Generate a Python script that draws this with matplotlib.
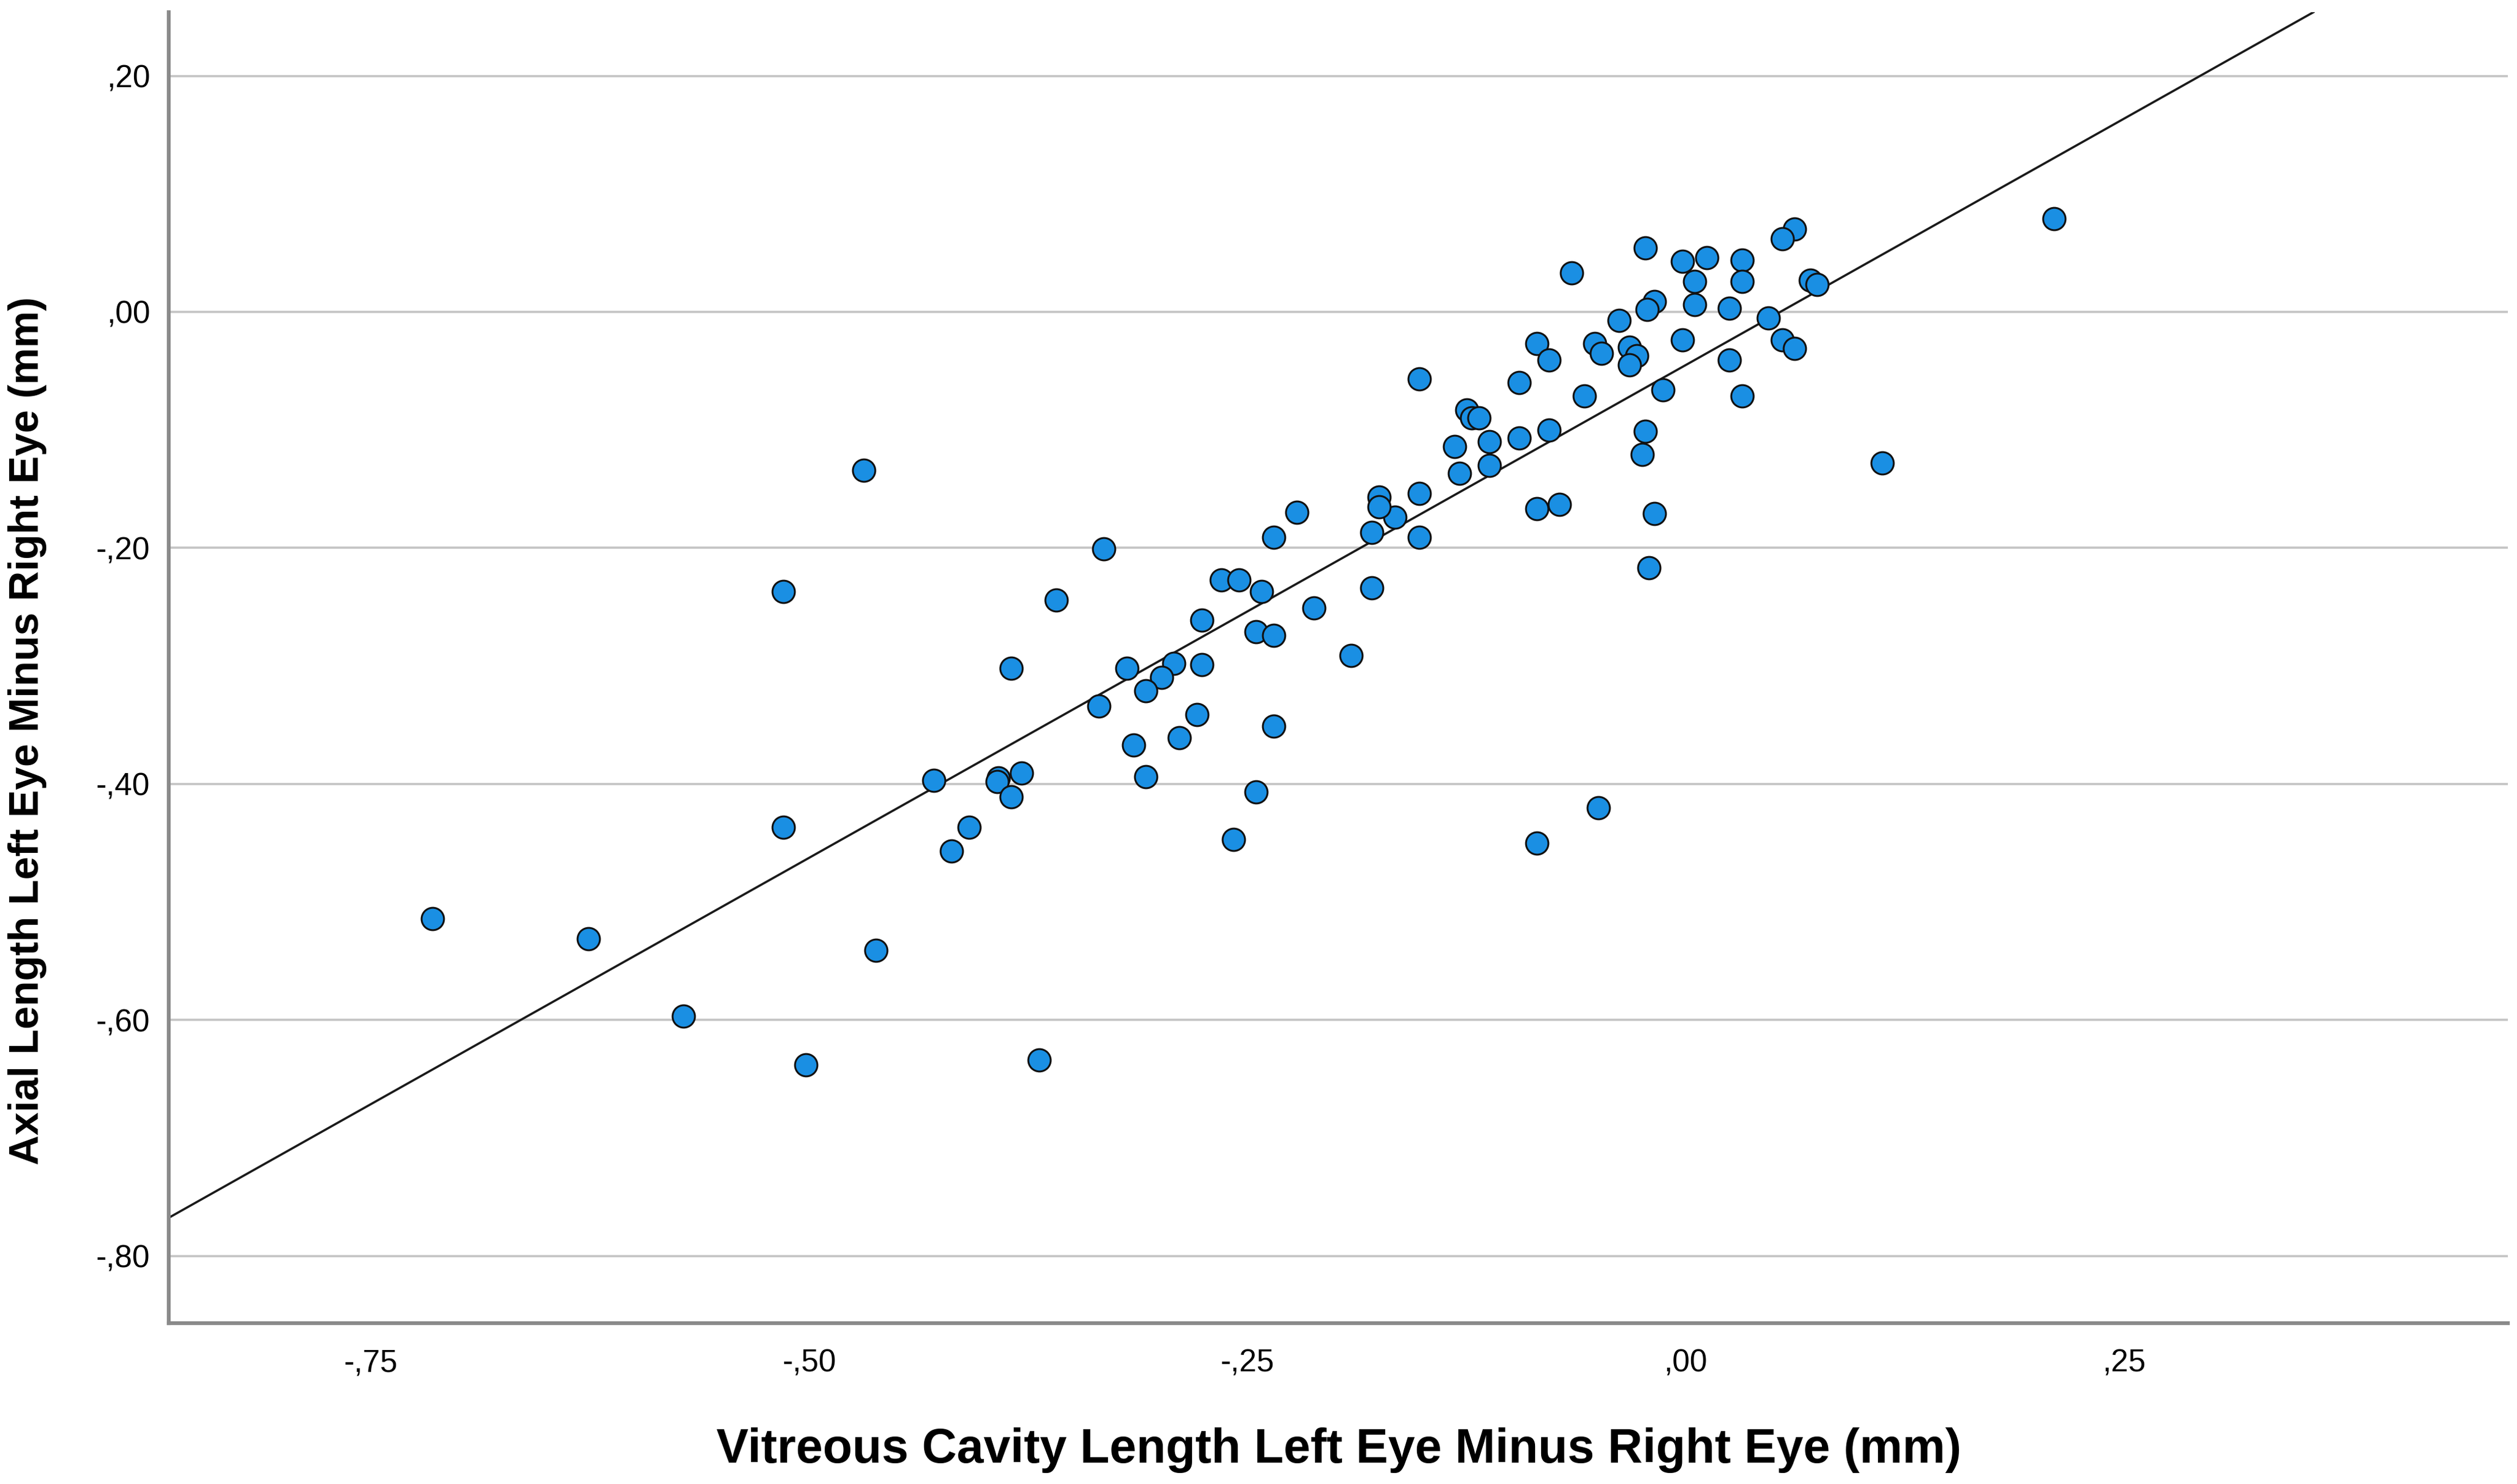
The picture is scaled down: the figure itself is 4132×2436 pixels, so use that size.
import matplotlib
matplotlib.use("Agg")
import matplotlib.pyplot as plt
from matplotlib import font_manager

# ---------------- data ----------------
vitreous_diff = [
    0.062, 0.055, -0.023, -0.065, -0.002, 0.012, 0.032, 0.005, 0.032, 0.071,
    0.075, -0.018, -0.022, 0.005, 0.025, -0.038, 0.047, -0.085, -0.078, -0.052,
    -0.048, -0.032, -0.028, -0.032, -0.002, 0.055, 0.062, 0.025, -0.152, -0.095,
    -0.058, -0.013, 0.032, -0.125, -0.122, -0.118, -0.132, -0.112, -0.095, -0.078,
    -0.129, -0.112, -0.023, -0.025, -0.152, -0.166, -0.152, -0.085, -0.072, -0.018,
    -0.021, 0.112,
    -0.175, -0.175, -0.179, -0.222, -0.235, -0.332, -0.359, -0.265, -0.255, -0.242,
    -0.179, -0.212, -0.276, -0.245, -0.235, -0.191, -0.385, -0.319, -0.292, -0.276,
    -0.299, -0.308, -0.335, -0.279, -0.289, -0.315, -0.235, -0.308, -0.429, -0.392,
    -0.393, -0.379, -0.385, -0.409, -0.419, -0.245, -0.258, -0.369,
    -0.469, -0.515, -0.515, -0.715, -0.626, -0.462,
    -0.572, -0.502, 0.210, -0.085, -0.050,
]
axial_diff = [
    0.070, 0.062, 0.054, 0.033, 0.043, 0.046, 0.044, 0.026, 0.026, 0.027,
    0.023, 0.009, 0.002, 0.006, 0.003, -0.007, -0.005, -0.027, -0.041, -0.027,
    -0.035, -0.030, -0.037, -0.045, -0.024, -0.024, -0.031, -0.041, -0.057, -0.060,
    -0.071, -0.066, -0.071, -0.083, -0.090, -0.090, -0.114, -0.110, -0.107, -0.100,
    -0.137, -0.130, -0.101, -0.121, -0.154, -0.174, -0.191, -0.167, -0.163, -0.171,
    -0.217, -0.128,
    -0.157, -0.165, -0.187, -0.170, -0.191, -0.201, -0.244, -0.227, -0.227, -0.237,
    -0.234, -0.251, -0.261, -0.271, -0.274, -0.291, -0.302, -0.302, -0.298, -0.299,
    -0.310, -0.321, -0.334, -0.341, -0.361, -0.367, -0.351, -0.394, -0.397, -0.395,
    -0.398, -0.391, -0.411, -0.437, -0.457, -0.407, -0.447, -0.634,
    -0.134, -0.237, -0.437, -0.514, -0.531, -0.541,
    -0.597, -0.638, 0.079, -0.450, -0.420,
]
fit_slope = 0.835
fit_intercept = -0.045

x_ticks = [-0.75, -0.50, -0.25, 0.00, 0.25]
x_tick_labels = ["-,75", "-,50", "-,25", ",00", ",25"]
y_ticks = [0.20, 0.00, -0.20, -0.40, -0.60, -0.80]
y_tick_labels = [",20", ",00", "-,20", "-,40", "-,60", "-,80"]

x_title = "Vitreous Cavity Length Left Eye Minus Right Eye (mm)"
y_title = "Axial Length Left Eye Minus Right Eye (mm)"

# ---------------- style ----------------
W, H, DPI = 4132, 2436, 100
fig = plt.figure(figsize=(W / DPI, H / DPI), dpi=DPI, facecolor="white")
ax = fig.add_axes([277 / W, 1 - 2172 / H, (4117 - 277) / W, (2172 - 20) / H])

ax.set_xlim(-0.8655, 0.469)
ax.set_ylim(-0.857, 0.254)

grid_color = "#c4c4c4"
spine_color = "#8a8a8a"
marker_color = "#1a8fe3"

ax.set_yticks(y_ticks)
ax.set_yticklabels(y_tick_labels)
ax.set_xticks(x_ticks)
ax.set_xticklabels(x_tick_labels)
ax.tick_params(axis="both", length=0, labelsize=37, colors="black")
ax.tick_params(axis="x", pad=30)
ax.tick_params(axis="y", pad=22)
for lab in ax.get_xticklabels() + ax.get_yticklabels():
    lab.set_fontfamily(["Liberation Sans", "DejaVu Sans"])

ax.yaxis.grid(True, color=grid_color, linewidth=2.6, zorder=0)
ax.xaxis.grid(False)
ax.set_axisbelow(True)

for side in ("top", "right"):
    ax.spines[side].set_visible(False)
for side in ("left", "bottom"):
    ax.spines[side].set_color(spine_color)
    ax.spines[side].set_linewidth(4.5)

ax.axline((0.0, fit_intercept), slope=fit_slope, color="#1a1a1a",
          linewidth=2.6, zorder=2)

ax.scatter(vitreous_diff, axial_diff, s=700, color=marker_color,
           edgecolors="#111111", linewidths=2.2, zorder=3)

# axis titles
fig.text(2198 / W, 1 - 2380 / H, x_title, ha="center", va="center",
         fontsize=57, fontweight="bold", family=["Liberation Sans", "DejaVu Sans"])

names = {f.name for f in font_manager.fontManager.ttflist}
if "Liberation Sans Narrow" in names:
    yfam, ysize = ["Liberation Sans Narrow", "Liberation Sans"], 58
else:
    yfam, ysize = ["Liberation Sans", "DejaVu Sans"], 49
fig.text(45 / W, 1 - 1199 / H, y_title, ha="center", va="center", rotation=90,
         fontsize=ysize, fontweight="bold", family=yfam)

fig.savefig("out.png", dpi=DPI, facecolor="white")
